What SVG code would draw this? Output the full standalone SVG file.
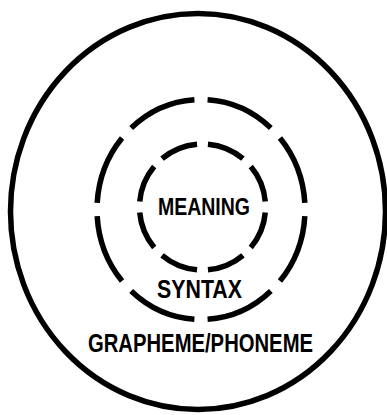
<svg xmlns="http://www.w3.org/2000/svg" width="387" height="415" viewBox="0 0 387 415">
<style>
.ring{fill:none;stroke:#000;stroke-width:5.5;stroke-linecap:butt}
.lbl{font-family:"Liberation Sans",Arial,sans-serif;font-weight:bold;fill:#000}
</style>
<rect width="387" height="415" fill="#fff"/>
<g id="outer">
<ellipse class="ring" cx="198" cy="211.5" rx="187.5" ry="198"/>
<text class="lbl" x="88" y="352" font-size="26" textLength="225" lengthAdjust="spacingAndGlyphs">GRAPHEME/PHONEME</text>
</g>
<g id="middle">
<ellipse class="ring" cx="201" cy="209.5" rx="104" ry="110" pathLength="100" stroke-dasharray="10.5 2" stroke-dashoffset="11.5"/>
<text class="lbl" x="157" y="298" font-size="25" textLength="85" lengthAdjust="spacingAndGlyphs">SYNTAX</text>
</g>
<g id="inner">
<ellipse class="ring" cx="202.5" cy="207" rx="63" ry="63" pathLength="100" stroke-dasharray="9.7 2.8" stroke-dashoffset="11.1"/>
<text class="lbl" x="158" y="215" font-size="24" textLength="92" lengthAdjust="spacingAndGlyphs">MEANING</text>
</g>
<g id="connectors"/>
</svg>
